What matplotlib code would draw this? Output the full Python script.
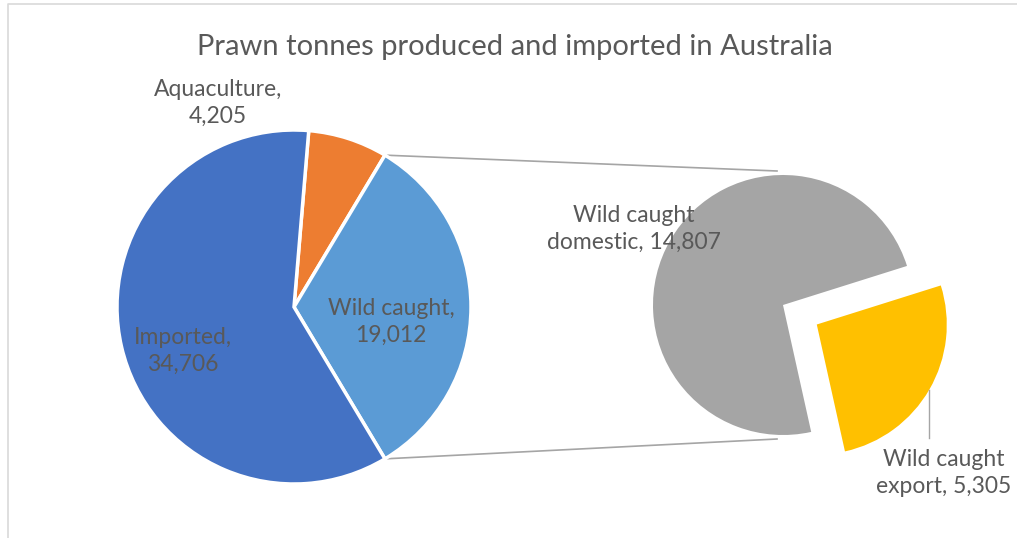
import numpy as np
import matplotlib
matplotlib.use("Agg")
import matplotlib.pyplot as plt

# main pie (clockwise order as in the chart)
main_names = ["Aquaculture", "Wild caught", "Imported"]
main_values = [4205, 19012, 34706]
main_colors = ["#ED7D31", "#5B9BD5", "#4472C4"]

# secondary pie (split of the wild caught slice)
sub_names = ["Wild caught\nexport", "Wild caught\ndomestic"]
sub_values = [5305, 14807]
sub_colors = ["#FFC000", "#A5A5A5"]

title = "Prawn tonnes produced and imported in Australia"
text_color = "#595959"
plt.rcParams["font.family"] = ["Lato", "DejaVu Sans"]

W, H = 1017, 538
fig = plt.figure(figsize=(W / 100, H / 100), dpi=100)
ax = fig.add_axes([0, 0, 1, 1])

# pie geometry (pixel-like data units, y up)
c1, r1 = (294, H - 307), 177
c2, r2 = (783, H - 305), 130

# left pie: wild caught slice centred facing right (bearing 90)
deg = np.array(main_values) / sum(main_values) * 360
wild_start = 90 - deg[1] / 2
aq_start = wild_start - deg[0]
ax.pie(main_values, colors=main_colors, center=c1, radius=r1,
       startangle=90 - aq_start, counterclock=False,
       wedgeprops=dict(edgecolor="white", linewidth=2.5))

# right pie: export slice exploded, centred at bearing 120
sdeg = np.array(sub_values) / sum(sub_values) * 360
exp_start = 120 - sdeg[0] / 2
ax.pie(sub_values, colors=sub_colors, center=c2, radius=r2,
       startangle=90 - exp_start, counterclock=False,
       explode=[0.3 * r2, 0], wedgeprops=dict(linewidth=0))

# connector lines from wild caught slice edges to the second pie
for b, sgn in [(wild_start, 1), (wild_start + deg[1], -1)]:
    br = np.radians(b)
    x0, y0 = c1[0] + r1 * np.sin(br), c1[1] + r1 * np.cos(br)
    ax.plot([x0, c2[0] - 6], [y0, c2[1] + sgn * (r2 + 4)],
            color="#A5A5A5", lw=1.2, zorder=0)

# labels
def lab(name, v):
    return f"{name}, {v:,}" if "\n" in name else f"{name},\n{v:,}"

fs = 16.5
kw = dict(ha="center", va="center", color=text_color, fontsize=fs, linespacing=1.35)
ax.text(218, H - 103, lab(main_names[0], main_values[0]), **kw)
ax.text(391, H - 322, lab(main_names[1], main_values[1]), **kw)
ax.text(183, H - 351, lab(main_names[2], main_values[2]), **kw)
ax.text(634, H - 229, lab(sub_names[1], sub_values[1]), **kw)
ax.text(944, H - 473, lab(sub_names[0], sub_values[0]), **kw)
ax.plot([929, 929], [H - 390, H - 438], color="#A5A5A5", lw=1)

ax.text(515, H - 47, title, ha="center", va="center", color=text_color, fontsize=21)

# chart border
ax.plot([8, 8, W + 5], [-5, H - 4, H - 4], color="#D9D9D9", lw=1.2)

ax.set_xlim(0, W)
ax.set_ylim(0, H)
ax.set_aspect("auto")
ax.axis("off")
fig.savefig("out.png", dpi=100)
